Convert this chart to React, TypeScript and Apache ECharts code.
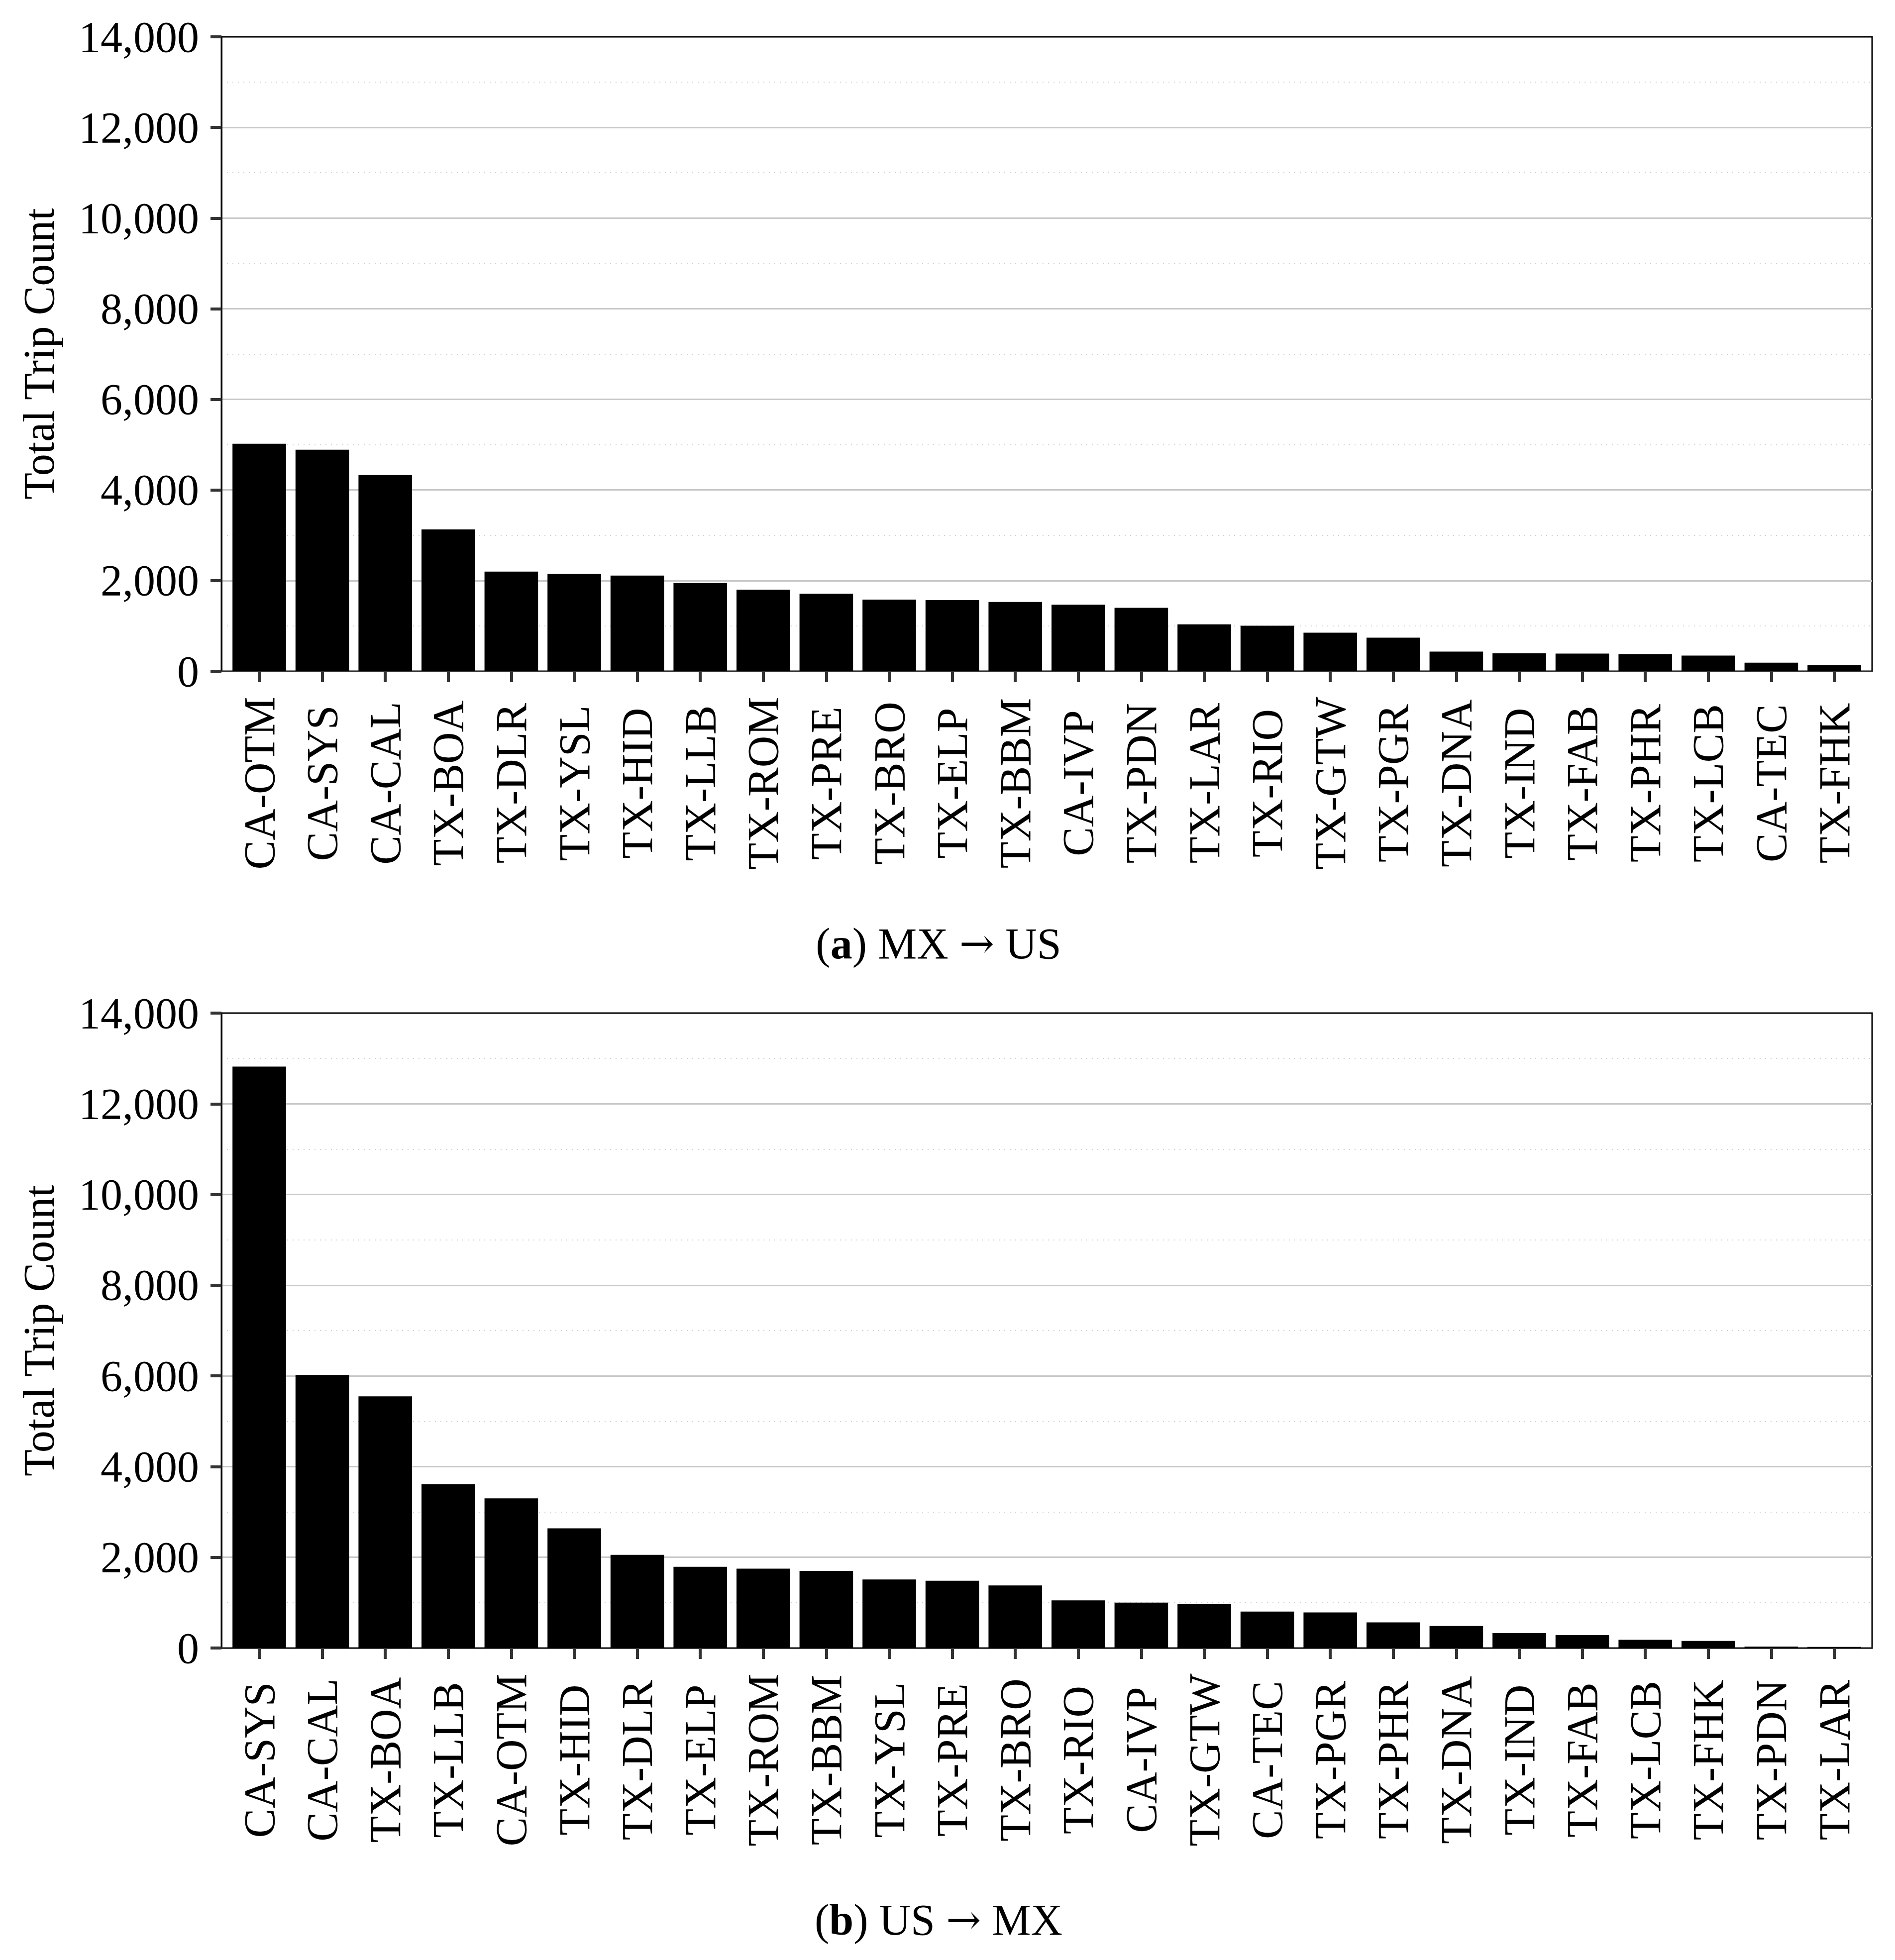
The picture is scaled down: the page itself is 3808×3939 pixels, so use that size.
import React, { useEffect, useRef } from "react";
import * as echarts from "echarts";

const W = 3808;
const H = 3939;
const FONT = '"Liberation Serif", "Times New Roman", Times, serif';
const ARROW_FONT = '"DejaVu Serif", "Liberation Serif", serif';

// Panel (a) MX -> US
const categoriesA = [
  "CA-OTM", "CA-SYS", "CA-CAL", "TX-BOA", "TX-DLR", "TX-YSL", "TX-HID", "TX-LLB", "TX-ROM",
  "TX-PRE", "TX-BRO", "TX-ELP", "TX-BBM", "CA-IVP", "TX-PDN", "TX-LAR", "TX-RIO", "TX-GTW",
  "TX-PGR", "TX-DNA", "TX-IND", "TX-FAB", "TX-PHR", "TX-LCB", "CA-TEC", "TX-FHK",
];
const valuesA = [
  5020, 4890, 4330, 3130, 2200, 2150, 2110, 1945, 1800,
  1710, 1580, 1570, 1530, 1470, 1400, 1035, 1005, 850,
  740, 435, 395, 390, 380, 345, 190, 135,
];

// Panel (b) US -> MX
const categoriesB = [
  "CA-SYS", "CA-CAL", "TX-BOA", "TX-LLB", "CA-OTM", "TX-HID", "TX-DLR", "TX-ELP", "TX-ROM",
  "TX-BBM", "TX-YSL", "TX-PRE", "TX-BRO", "TX-RIO", "CA-IVP", "TX-GTW", "CA-TEC", "TX-PGR",
  "TX-PHR", "TX-DNA", "TX-IND", "TX-FAB", "TX-LCB", "TX-FHK", "TX-PDN", "TX-LAR",
];
const valuesB = [
  12820, 6020, 5550, 3610, 3300, 2640, 2055, 1790, 1750,
  1700, 1510, 1485, 1380, 1050, 1000, 965, 805, 785,
  565, 485, 330, 285, 180, 155, 30, 25,
];

const yMin = 0;
const yMax = 14000;
const yInterval = 2000;
const yAxisTitle = "Total Trip Count";
const captionA = { tag: "a", from: "MX", to: "US" };
const captionB = { tag: "b", from: "US", to: "MX" };

const FRAME_LEFT = 445;
const FRAME_WIDTH = 3317;
const PAD = 12.7;
const FS = 88;

function panel(index: number, top: number, height: number, cats: string[], vals: number[]) {
  const g = index * 2;
  const grids = [
    {
      left: FRAME_LEFT,
      top,
      width: FRAME_WIDTH,
      height,
      show: true,
      borderColor: "#000",
      borderWidth: 3,
      backgroundColor: "transparent",
    },
    {
      left: FRAME_LEFT + PAD,
      top,
      width: FRAME_WIDTH - 2 * PAD,
      height,
      show: false,
    },
  ];
  const xAxes = [
    {
      gridIndex: g,
      type: "value",
      min: 0,
      max: 1,
      axisLine: { show: true, onZero: false, lineStyle: { color: "#333", width: 3 } },
      axisTick: { show: false },
      axisLabel: { show: false },
      splitLine: { show: false },
    },
    {
      gridIndex: g + 1,
      type: "category",
      data: cats,
      axisLine: { show: false },
      axisTick: {
        show: true,
        alignWithLabel: true,
        length: 22,
        lineStyle: { color: "#333", width: 6 },
      },
      axisLabel: {
        interval: 0,
        rotate: 90,
        align: "center",
        verticalAlign: "middle",
        margin: 225,
        fontFamily: FONT,
        fontSize: FS,
        color: "#000",
      },
    },
  ];
  const yAxes = [
    {
      gridIndex: g,
      type: "value",
      min: yMin,
      max: yMax,
      interval: yInterval,
      axisLine: { show: true, lineStyle: { color: "#000", width: 3 } },
      axisTick: { show: true, length: 22, lineStyle: { color: "#333", width: 6 } },
      axisLabel: {
        fontFamily: FONT,
        fontSize: FS,
        color: "#000",
        margin: 45,
        formatter: (v: number) => v.toLocaleString("en-US"),
      },
      splitLine: {
        show: true,
        showMinLine: false,
        showMaxLine: false,
        lineStyle: { color: "#c8c8c8", width: 3 },
      },
      minorTick: { show: false, splitNumber: 2 },
      minorSplitLine: {
        show: true,
        lineStyle: { color: "#d0d0d0", width: 2, type: [2, 9] },
      },
    },
    {
      gridIndex: g + 1,
      type: "value",
      min: yMin,
      max: yMax,
      interval: yInterval,
      show: false,
      splitLine: { show: false },
    },
  ];
  const series = [
    {
      type: "bar",
      xAxisIndex: g + 1,
      yAxisIndex: g + 1,
      data: vals,
      barWidth: "85%",
      itemStyle: { color: "#000" },
      z: 5,
    },
  ];
  return { grids, xAxes, yAxes, series };
}

function titleText(y: number) {
  return {
    type: "text",
    x: 78,
    y,
    rotation: Math.PI / 2,
    style: {
      text: yAxisTitle,
      fontFamily: FONT,
      fontSize: FS,
      fill: "#000",
      align: "center",
      verticalAlign: "middle",
      textAlign: "center",
      textVerticalAlign: "middle",
    },
  };
}

function caption(y: number, c: { tag: string; from: string; to: string }) {
  return {
    type: "text",
    x: 1886,
    y,
    style: {
      text: "({b|" + c.tag + "}) " + c.from + " {arr|\u2192} " + c.to,
      fontFamily: FONT,
      fontSize: FS,
      fill: "#000",
      align: "center",
      verticalAlign: "middle",
      textAlign: "center",
      textVerticalAlign: "middle",
      rich: {
        b: { fontFamily: FONT, fontSize: FS, fontWeight: "bold", fill: "#000" },
        arr: { fontFamily: ARROW_FONT, fontSize: 84, fill: "#000" },
      },
    },
  };
}

export default function App() {
  const ref = useRef<HTMLDivElement>(null);
  useEffect(() => {
    document.body.style.margin = "0";
    if (!ref.current) return;
    const chart = echarts.init(ref.current, null, { renderer: "svg", width: W, height: H });
    const a = panel(0, 74, 1275, categoriesA, valuesA);
    const b = panel(1, 2036, 1276, categoriesB, valuesB);
    chart.setOption({
      animation: false,
      backgroundColor: "#fff",
      grid: [...a.grids, ...b.grids],
      xAxis: [...a.xAxes, ...b.xAxes],
      yAxis: [...a.yAxes, ...b.yAxes],
      series: [...a.series, ...b.series],
      graphic: [
        titleText(711),
        titleText(2674),
        caption(1896, captionA),
        caption(3858, captionB),
      ],
    });
    return () => chart.dispose();
  }, []);
  return <div ref={ref} style={{ width: W, height: H, background: "#fff" }} />;
}
